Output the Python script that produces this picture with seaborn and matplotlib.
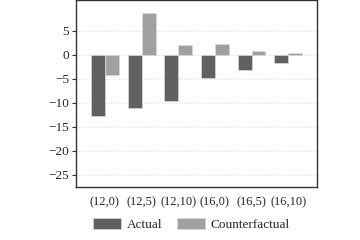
import pandas as pd
import matplotlib.pyplot as plt
import seaborn as sns

categories = ['(12,0)', '(12,5)', '(12,10)', '(16,0)', '(16,5)', '(16,10)']
actual = [-12.8, -11.1, -9.6, -4.9, -3.2, -1.7]
counterfactual = [-4.3, 8.6, 2.1, 2.3, 0.8, 0.3]

df = pd.DataFrame({
    'scenario': categories * 2,
    'value': actual + counterfactual,
    'series': ['Actual'] * len(categories) + ['Counterfactual'] * len(categories),
})

sns.set_style('white')
plt.rcParams['font.family'] = 'serif'
plt.rcParams['font.serif'] = ['Liberation Serif', 'DejaVu Serif']

fig = plt.figure(figsize=(3.6, 2.4), dpi=100)
ax = fig.add_axes([0.211, 0.221, 0.670, 0.777])

sns.barplot(data=df, x='scenario', y='value', hue='series',
            palette=['#606060', '#a0a0a0'], width=0.76,
            edgecolor='#d8d8d8', linewidth=0.5, ax=ax)

ax.set_ylim(-27.5, 11.3)
ax.set_xlim(-0.79, 5.79)
ax.set_yticks([5, 0, -5, -10, -15, -20, -25])
ax.set_yticklabels(['5', '0', '\u22125', '\u221210', '\u221215', '\u221220', '\u221225'])
ax.yaxis.grid(True, linestyle=(0, (1, 2)), color='#d0d0d0', linewidth=0.6)
ax.set_axisbelow(True)
ax.set_xlabel('')
ax.set_ylabel('')
ax.tick_params(axis='y', length=3, width=0.8, labelsize=9.5, pad=2, left=True, color='#333333')
ax.tick_params(axis='x', length=0, labelsize=9, pad=7)
for s in ax.spines.values():
    s.set_color('#333333')
    s.set_linewidth(1.0)

handles, labels = ax.get_legend_handles_labels()
ax.legend_.remove()
fig.legend(handles, labels, loc='center', bbox_to_anchor=(0.532, 0.066), ncol=2,
           frameon=False, fontsize=9.5, handlelength=2.1, handleheight=0.95,
           columnspacing=1.1, handletextpad=0.45)

fig.savefig('out.png', dpi=100)
